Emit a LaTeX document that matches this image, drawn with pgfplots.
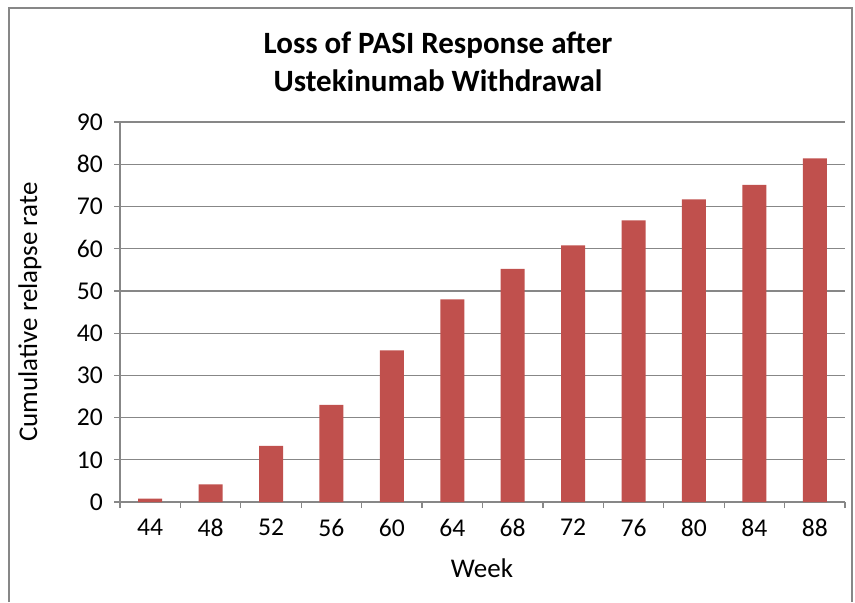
\documentclass[border=0pt]{standalone}
\usepackage{pgfplots}
\pgfplotsset{compat=1.18}
\usepackage{fontspec}
\setmainfont{Carlito}
\definecolor{barred}{HTML}{C0504D}
\definecolor{gridgrey}{HTML}{878787}
\begin{document}
\begin{tikzpicture}
\useasboundingbox (0,0) rectangle (427.5pt,301pt);
\draw[gridgrey, line width=0.8pt] (4.5pt,0pt) -- (4.5pt,297pt) -- (426pt,297pt) -- (426pt,0pt);
\begin{axis}[
  at={(60pt,50pt)}, anchor=south west,
  width=362.5pt, height=190pt, scale only axis,
  xmin=-0.5, xmax=11.5, ymin=0, ymax=90,
  axis lines=left, axis line style={-, gridgrey, line width=0.6pt},
  xtick={0,...,11},
  xticklabels={44,48,52,56,60,64,68,72,76,80,84,88},
  minor xtick={-0.5,0.5,...,11.5},
  major x tick style={draw=none},
  minor x tick style={gridgrey, line width=0.6pt},
  minor tick length=3pt,
  ytick={0,10,...,90},
  major tick length=3pt,
  y tick style={gridgrey, line width=0.6pt},
  tick align=outside,
  ymajorgrids, grid style={gridgrey, line width=0.6pt},
  /pgf/number format/assume math mode=true,
  ticklabel style={font=\fontsize{12.8}{14}\selectfont},
  xticklabel style={yshift=-2pt},
  yticklabel style={xshift=-2pt},
  ybar, bar width=12pt,
]
\addplot[fill=barred, draw=none] coordinates {
(0,0.8) (1,4.2) (2,13.3) (3,23.0) (4,35.9) (5,48.0)
(6,55.2) (7,60.8) (8,66.7) (9,71.7) (10,75.1) (11,81.4)};
\end{axis}
\node[align=center, font=\fontsize{15.5}{19}\bfseries\selectfont] at (219pt,270pt) {Loss of PASI Response after\\Ustekinumab Withdrawal};
\node[rotate=90, font=\fontsize{13.5}{15}\selectfont] at (15pt,145pt) {Cumulative relapse rate};
\node[font=\fontsize{13.5}{15}\selectfont] at (241pt,17pt) {Week};
\end{tikzpicture}
\end{document}
